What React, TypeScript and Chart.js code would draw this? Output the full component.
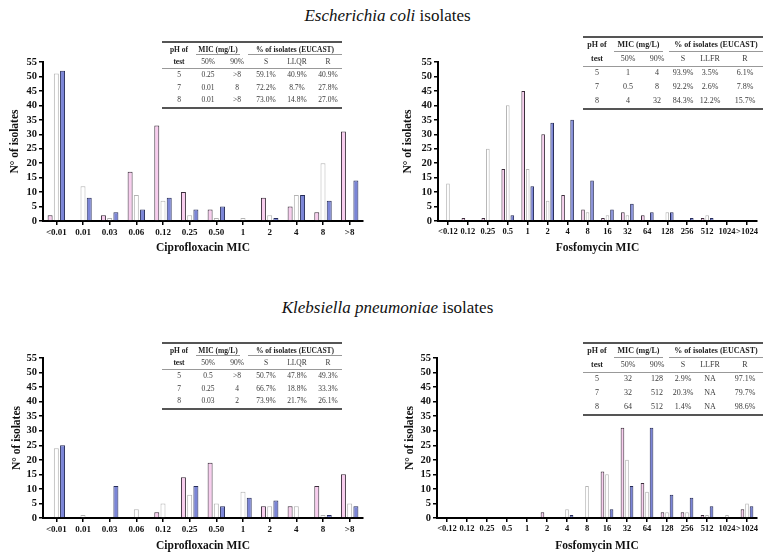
import React, { useEffect, useRef } from "react";
import { Chart, registerables } from "chart.js";
Chart.register(...registerables);

// ---------- DATA ----------
const cipCategories = ["<0.01", "0.01", "0.03", "0.06", "0.12", "0.25", "0.50", "1", "2", "4", "8", ">8"];
const fosCategories = ["<0.12", "0.12", "0.25", "0.5", "1", "2", "4", "8", "16", "32", "64", "128", "256", "512", "1024", ">1024"];
const seriesLabels = ["pH 5", "pH 7", "pH 8"];

const ecoliCipPH5 = [2, 0, 2, 17, 33, 10, 4, 0, 8, 5, 3, 31];
const ecoliCipPH7 = [51, 12, 1, 9, 7, 2, 1, 1, 2, 9, 20, 0];
const ecoliCipPH8 = [52, 8, 3, 4, 8, 4, 5, 0, 1, 9, 7, 14];

const ecoliFosPH5 = [0, 1, 1, 18, 45, 30, 9, 4, 1, 3, 2, 0, 0, 1, 0, 0];
const ecoliFosPH7 = [13, 0, 25, 40, 18, 7, 0, 3, 2, 2, 0, 3, 0, 2, 0, 0];
const ecoliFosPH8 = [0, 0, 0, 2, 12, 34, 35, 14, 4, 6, 3, 3, 1, 1, 0, 0];

const klebCipPH5 = [0, 0, 0, 0, 2, 14, 19, 0, 4, 4, 11, 15];
const klebCipPH7 = [24, 1, 0, 3, 5, 8, 5, 9, 4, 4, 1, 5];
const klebCipPH8 = [25, 0, 11, 0, 0, 11, 4, 7, 6, 0, 1, 4];

const klebFosPH5 = [0, 0, 0, 0, 0, 2, 0, 0, 16, 31, 12, 2, 2, 1, 0, 3];
const klebFosPH7 = [0, 0, 0, 0, 0, 0, 3, 11, 15, 20, 9, 2, 2, 1, 1, 5];
const klebFosPH8 = [0, 0, 0, 0, 0, 0, 1, 0, 3, 11, 31, 8, 7, 4, 0, 4];

const yMax = 55;
const yStep = 5;

const cipSubHeaders = ["50%", "90%", "S", "LLQR", "R"];
const fosSubHeaders = ["50%", "90%", "S", "LLFR", "R"];

const ecoliCipTable = [
  ["5", "0.25", ">8", "59.1%", "40.9%", "40.9%"],
  ["7", "0.01", "8", "72.2%", "8.7%", "27.8%"],
  ["8", "0.01", ">8", "73.0%", "14.8%", "27.0%"],
];
const ecoliFosTable = [
  ["5", "1", "4", "93.9%", "3.5%", "6.1%"],
  ["7", "0.5", "8", "92.2%", "2.6%", "7.8%"],
  ["8", "4", "32", "84.3%", "12.2%", "15.7%"],
];
const klebCipTable = [
  ["5", "0.5", ">8", "50.7%", "47.8%", "49.3%"],
  ["7", "0.25", "4", "66.7%", "18.8%", "33.3%"],
  ["8", "0.03", "2", "73.9%", "21.7%", "26.1%"],
];
const klebFosTable = [
  ["5", "32", "128", "2.9%", "NA", "97.1%"],
  ["7", "32", "512", "20.3%", "NA", "79.7%"],
  ["8", "64", "512", "1.4%", "NA", "98.6%"],
];

// ---------- STYLE ----------
const SERIF = "'Liberation Serif', 'Times New Roman', serif";
const barStyles = [
  { backgroundColor: "#f8cdee", borderColor: "#3b2d3b" },
  { backgroundColor: "#ffffff", borderColor: "#b4b4b4" },
  { backgroundColor: "#7b85d7", borderColor: "#262c58" },
];

type Area = { l: number; t: number; r: number; b: number };

function BarPanel(props: {
  left: number; top: number; width: number; height: number; area: Area;
  yTitleX: number; xTitleY: number; categories: string[]; series: number[][];
  xTitle: string; catPct: number; tickSize: number;
}) {
  const ref = useRef<HTMLCanvasElement>(null);
  useEffect(() => {
    const { width, height, area, yTitleX, xTitleY, categories, series, xTitle, catPct, tickSize } = props;
    const titleSize = 11.5;
    const lh = titleSize * 1.2;
    const chart = new Chart(ref.current!, {
      type: "bar",
      data: {
        labels: categories,
        datasets: series.map((d, i) => ({
          label: seriesLabels[i],
          data: d,
          ...barStyles[i],
          borderWidth: 1,
          barPercentage: 0.8,
          categoryPercentage: catPct,
        })),
      },
      options: {
        responsive: false,
        animation: false,
        devicePixelRatio: 1,
        layout: { padding: { left: 0, top: area.t, right: width - area.r, bottom: 0 } },
        plugins: { legend: { display: false }, tooltip: { enabled: false } },
        scales: {
          x: {
            afterFit: (s: any) => { s.height = height - area.b; },
            grid: { display: true, drawOnChartArea: false, drawTicks: true, tickLength: 4, color: "#000", lineWidth: 1.5, offset: false },
            border: { display: true, color: "#000", width: 2 },
            ticks: { autoSkip: false, maxRotation: 0, minRotation: 0, padding: 2, color: "#111", font: { family: SERIF, size: tickSize, weight: "bold" } },
            title: { display: true, text: xTitle, color: "#111", font: { family: SERIF, size: titleSize, weight: "bold" }, padding: { top: 0, bottom: height - xTitleY - lh / 2 } },
          },
          y: {
            min: 0, max: yMax,
            afterFit: (s: any) => { s.width = area.l; },
            grid: { display: true, drawOnChartArea: false, drawTicks: true, tickLength: 4, color: "#000", lineWidth: 1.5 },
            border: { display: true, color: "#000", width: 2 },
            ticks: { stepSize: yStep, autoSkip: false, padding: 2, color: "#111", font: { family: SERIF, size: 10.5, weight: "bold" } },
            title: { display: true, text: "N° of isolates", color: "#111", font: { family: SERIF, size: titleSize, weight: "bold" }, padding: { top: yTitleX - lh / 2, bottom: 0 } },
          },
        },
      },
    } as any);
    return () => chart.destroy();
  }, []);
  return (
    <canvas
      ref={ref}
      width={props.width}
      height={props.height}
      style={{ position: "absolute", left: props.left, top: props.top, width: props.width, height: props.height }}
    />
  );
}

type TableLayout = {
  left: number; right: number; top: number; cols: number[];
  r1: number; sub: number; r2: number; line: number; rows: number[]; bottom: number;
  mic: [number, number]; pct: [number, number]; fs: number;
};

function StatTable({ lay, subHeaders, rows }: { lay: TableLayout; subHeaders: string[]; rows: string[][] }) {
  const txt = (x: number, y: number, s: string, bold: boolean, key: string) => (
    <div key={key} style={{
      position: "absolute", left: x, top: y, transform: "translate(-50%,-50%)", whiteSpace: "nowrap",
      fontFamily: SERIF, fontSize: lay.fs, fontWeight: bold ? "bold" : "normal", color: bold ? "#222" : "#3a3a3a", lineHeight: 1,
    }}>{s}</div>
  );
  const hline = (x1: number, x2: number, y: number, w: number, c: string, key: string) => (
    <div key={key} style={{ position: "absolute", left: x1, top: y - w / 2, width: x2 - x1, height: w, background: c }} />
  );
  const items: any[] = [];
  items.push(hline(lay.left, lay.right, lay.top, 2, "#555", "top"));
  items.push(hline(lay.left, lay.right, lay.bottom, 2, "#555", "bot"));
  items.push(hline(lay.mic[0], lay.mic[1], lay.sub, 1, "#999", "subm"));
  items.push(hline(lay.pct[0], lay.pct[1], lay.sub, 1, "#999", "subp"));
  items.push(hline(lay.left, lay.right, lay.line, 1, "#999", "mid"));
  items.push(txt(lay.cols[0], lay.r1, "pH of", true, "ph1"));
  items.push(txt(lay.cols[0], lay.r2, "test", true, "ph2"));
  items.push(txt((lay.mic[0] + lay.mic[1]) / 2, lay.r1, "MIC (mg/L)", true, "mic"));
  items.push(txt((lay.pct[0] + lay.pct[1]) / 2, lay.r1, "% of isolates (EUCAST)", true, "pct"));
  subHeaders.forEach((h, i) => items.push(txt(lay.cols[i + 1], lay.r2, h, false, "sh" + i)));
  rows.forEach((r, ri) => r.forEach((c, ci) => items.push(txt(lay.cols[ci], lay.rows[ri], c, false, `c${ri}_${ci}`))));
  return <>{items}</>;
}

function Heading({ y, italic, rest }: { y: number; italic: string; rest: string }) {
  return (
    <div style={{
      position: "absolute", left: 0, width: 775, top: y, transform: "translateY(-50%)", textAlign: "center",
      fontFamily: SERIF, fontSize: 17, color: "#111", lineHeight: 1, whiteSpace: "nowrap",
    }}>
      <i>{italic}</i> {rest}
    </div>
  );
}

export default function App() {
  const tblL = (top: number): TableLayout => ({
    left: 162, right: 342, top, cols: [179, 208, 237, 266, 297, 328],
    r1: top + 8, sub: top + 12.5, r2: top + 20, line: top + 26.5, rows: [top + 33, top + 46, top + 58], bottom: top + 66,
    mic: [196, 240], pct: [248, 342], fs: 7.5,
  });
  const tblR = (top: number): TableLayout => ({
    left: 583, right: 763, top, cols: [597, 628, 657, 683, 710, 745],
    r1: top + 8, sub: top + 14, r2: top + 22, line: top + 29, rows: [top + 36, top + 50, top + 64], bottom: top + 72,
    mic: [614, 663], pct: [669, 763], fs: 8,
  });
  return (
    <div style={{ position: "absolute", left: 0, top: 0, width: 775, height: 560, background: "#fff", overflow: "hidden" }}>
      <Heading y={15} italic="Escherichia coli" rest="isolates" />
      <Heading y={307} italic="Klebsiella pneumoniae" rest="isolates" />

      <BarPanel left={0} top={40} width={380} height={225} area={{ l: 43, t: 22, r: 363, b: 181 }}
        yTitleX={15} xTitleY={208} categories={cipCategories} series={[ecoliCipPH5, ecoliCipPH7, ecoliCipPH8]}
        xTitle="Ciprofloxacin MIC" catPct={0.7} tickSize={9} />
      <BarPanel left={395} top={40} width={380} height={225} area={{ l: 43, t: 22, r: 362, b: 181 }}
        yTitleX={13} xTitleY={208} categories={fosCategories} series={[ecoliFosPH5, ecoliFosPH7, ecoliFosPH8]}
        xTitle="Fosfomycin MIC" catPct={0.68} tickSize={8.5} />
      <BarPanel left={0} top={336} width={380} height={224} area={{ l: 43, t: 22, r: 363, b: 182 }}
        yTitleX={17} xTitleY={210} categories={cipCategories} series={[klebCipPH5, klebCipPH7, klebCipPH8]}
        xTitle="Ciprofloxacin MIC" catPct={0.7} tickSize={9} />
      <BarPanel left={395} top={336} width={380} height={224} area={{ l: 42, t: 22, r: 362, b: 182 }}
        yTitleX={15} xTitleY={210} categories={fosCategories} series={[klebFosPH5, klebFosPH7, klebFosPH8]}
        xTitle="Fosfomycin MIC" catPct={0.68} tickSize={8.5} />

      <StatTable lay={tblL(42)} subHeaders={cipSubHeaders} rows={ecoliCipTable} />
      <StatTable lay={tblR(37)} subHeaders={fosSubHeaders} rows={ecoliFosTable} />
      <StatTable lay={tblL(343)} subHeaders={cipSubHeaders} rows={klebCipTable} />
      <StatTable lay={tblR(343)} subHeaders={fosSubHeaders} rows={klebFosTable} />
    </div>
  );
}
